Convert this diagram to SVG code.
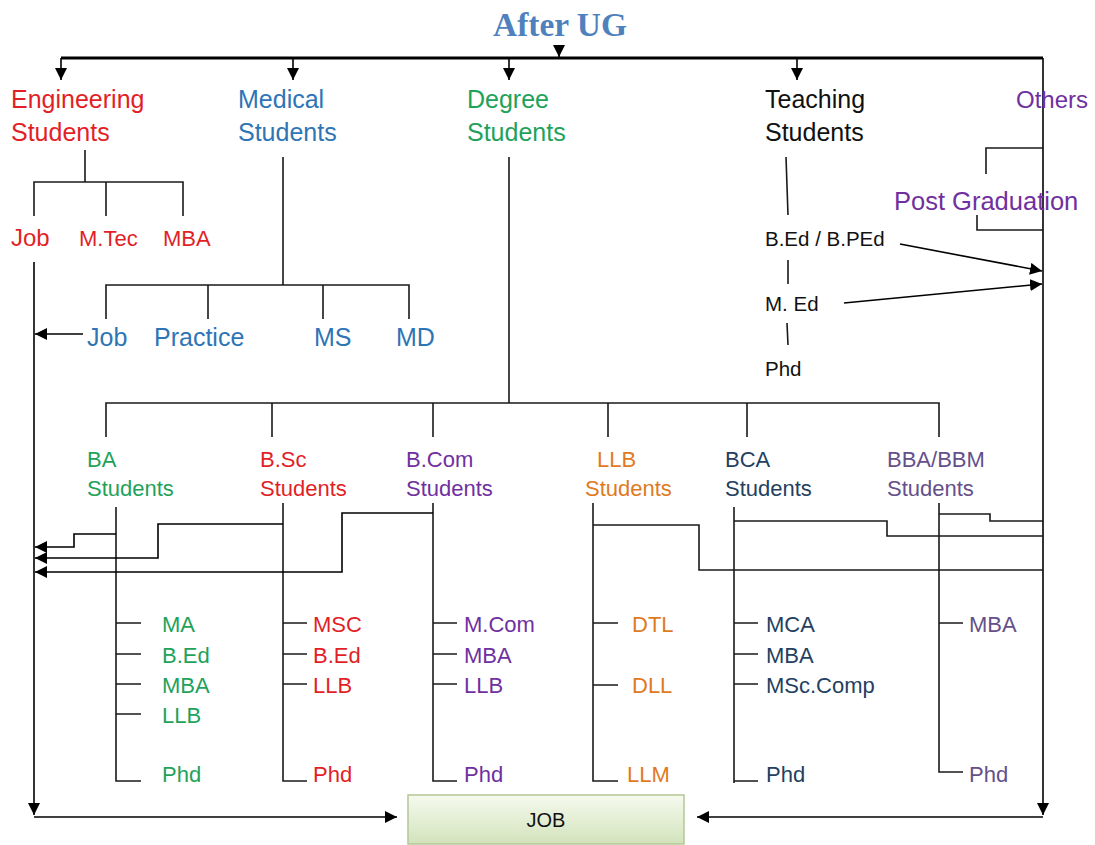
<svg xmlns="http://www.w3.org/2000/svg" width="1095" height="845" viewBox="0 0 1095 845">
<defs>
<marker id="ah" markerUnits="userSpaceOnUse" markerWidth="12" markerHeight="12" refX="12" refY="6" orient="auto">
<path d="M0,0 L12,6 L0,12 z" fill="#000"/>
</marker>
<linearGradient id="jobg" x1="0" y1="0" x2="0" y2="1">
<stop offset="0" stop-color="#f6faef"/>
<stop offset="1" stop-color="#d2e3bb"/>
</linearGradient>
<style>
text{font-family:"Liberation Sans",Arial,sans-serif;}
.big{font-size:25px;}
.mid{font-size:22px;}
.ln{stroke:#1a1a1a;stroke-width:1.6;fill:none;}
.arr{stroke:#000;stroke-width:1.6;fill:none;marker-end:url(#ah);}
.red{fill:#e21f26;}
.blue{fill:#2e75b6;}
.green{fill:#1fa25a;}
.blk{fill:#111;}
.pur{fill:#7030a0;}
.org{fill:#e07a1f;}
.navy{fill:#243f60;}
.pgray{fill:#65508a;}
</style>
</defs>
<rect width="1095" height="845" fill="#fff"/>

<g id="title">
<text x="560" y="36" text-anchor="middle" style="font-family:'Liberation Serif',serif;font-weight:bold;font-size:34px" fill="#4f81bd" textLength="134" lengthAdjust="spacingAndGlyphs">After UG</text>
</g>

<g id="connectors">
<path d="M61,58 H1043" stroke="#000" stroke-width="3" fill="none"/>
<path class="arr" d="M559,46 V57"/>
<path class="arr" d="M61,58 V80"/>
<path class="arr" d="M293,58 V80"/>
<path class="arr" d="M509,58 V80"/>
<path class="arr" d="M797,58 V80"/>
<path class="arr" d="M1043,58 V815"/>
<!-- engineering -->
<path class="ln" d="M85,150 V182 M34,216 V182 H183 V216 M106,182 V216"/>
<path class="arr" d="M34,262 V815"/>
<path class="arr" d="M34,817 H397"/>
<path class="arr" d="M1043,817 H697"/>
<!-- medical -->
<path class="ln" d="M283,157 V285 M106,319 V285 H409 V319 M208,285 V319 M323,285 V319"/>
<path class="arr" d="M83,334 H35"/>
<!-- degree -->
<path class="ln" d="M509,157 V403 M106,437 V403 H939 V437 M272,403 V437 M433,403 V437 M608,403 V437 M747,403 V437"/>
<!-- teaching -->
<path class="ln" d="M786,157 L788,215 M788,260 V284 M787,323 L788,345"/>
<path class="arr" d="M900,244 L1042,271"/>
<path class="arr" d="M844,303 L1042,284"/>
<!-- others -->
<path class="ln" d="M1043,148 H986 V174 M977,215 V230 H1043"/>
<!-- lower verticals and ticks -->
<path class="ln" d="M116,507 V781 H141 M116,623 H141 M116,654 H141 M116,684 H141 M116,714 H141"/>
<path class="ln" d="M283,503 V781 H307 M283,623 H307 M283,654 H307 M283,684 H307"/>
<path class="ln" d="M433,503 V781 H457 M433,623 H457 M433,654 H457 M433,684 H457"/>
<path class="ln" d="M593,503 V781 H618 M593,623 H618 M593,685 H618"/>
<path class="ln" d="M734,507 V783 M734,781 H758 M734,623 H758 M734,654 H758 M734,684 H758"/>
<path class="ln" d="M939,503 V772 H963 M939,623 H963"/>
<!-- back-to-job connectors left -->
<path class="arr" d="M116,534 H74 V547 H35"/>
<path class="arr" d="M283,524 H158 V558 H35"/>
<path class="arr" d="M433,513 H342 V572 H35"/>
<!-- right -->
<path class="ln" d="M593,525 H699 V570 H1043"/>
<path class="ln" d="M734,521 H887 V536 H1043"/>
<path class="ln" d="M939,514 H990 V521 H1043"/>
</g>

<g id="engineering"><text class="big red" x="11" y="108">Engineering</text><text class="big red" x="11" y="141">Students</text></g>
<g id="medical"><text class="big blue" x="238" y="108">Medical</text><text class="big blue" x="238" y="141">Students</text></g>
<g id="degree"><text class="big green" x="467" y="108">Degree</text><text class="big green" x="467" y="141">Students</text></g>
<g id="teaching"><text class="big blk" x="765" y="108">Teaching</text><text class="big blk" x="765" y="141">Students</text></g>
<g id="others"><text class="pur" x="1016" y="108" style="font-size:24px">Others</text></g>
<g id="post-graduation"><text class="pur" x="894" y="210" style="font-size:25.5px">Post Graduation</text></g>

<g id="eng-job"><text class="red" x="11" y="246" style="font-size:24px">Job</text></g>
<g id="eng-mtec"><text class="red mid" x="79" y="246">M.Tec</text></g>
<g id="eng-mba"><text class="red mid" x="163" y="246">MBA</text></g>

<g id="med-job"><text class="big blue" x="87" y="346">Job</text></g>
<g id="med-practice"><text class="big blue" x="154" y="346">Practice</text></g>
<g id="med-ms"><text class="big blue" x="314" y="346">MS</text></g>
<g id="med-md"><text class="big blue" x="396" y="346">MD</text></g>

<g id="teach-bed"><text class="blk" x="765" y="246" style="font-size:20.5px">B.Ed / B.PEd</text></g>
<g id="teach-med"><text class="blk" x="765" y="311" style="font-size:20.5px">M. Ed</text></g>
<g id="teach-phd"><text class="blk" x="765" y="376" style="font-size:20.5px">Phd</text></g>

<g id="ba"><text class="mid green" x="87" y="467">BA</text><text class="mid green" x="87" y="496">Students</text></g>
<g id="bsc"><text class="mid red" x="260" y="467">B.Sc</text><text class="mid red" x="260" y="496">Students</text></g>
<g id="bcom"><text class="mid pur" x="406" y="467">B.Com</text><text class="mid pur" x="406" y="496">Students</text></g>
<g id="llb"><text class="mid org" x="597" y="467">LLB</text><text class="mid org" x="585" y="496">Students</text></g>
<g id="bca"><text class="mid navy" x="725" y="467">BCA</text><text class="mid navy" x="725" y="496">Students</text></g>
<g id="bba"><text class="mid pgray" x="887" y="467">BBA/BBM</text><text class="mid pgray" x="887" y="496">Students</text></g>

<g id="ba-list" class="mid">
<text class="mid green" x="162" y="632">MA</text>
<text class="mid green" x="162" y="663">B.Ed</text>
<text class="mid green" x="162" y="693">MBA</text>
<text class="mid green" x="162" y="723">LLB</text>
<text class="mid green" x="162" y="782">Phd</text>
</g>
<g id="bsc-list">
<text class="mid red" x="313" y="632">MSC</text>
<text class="mid red" x="313" y="663">B.Ed</text>
<text class="mid red" x="313" y="693">LLB</text>
<text class="mid red" x="313" y="782">Phd</text>
</g>
<g id="bcom-list">
<text class="mid pur" x="464" y="632">M.Com</text>
<text class="mid pur" x="464" y="663">MBA</text>
<text class="mid pur" x="464" y="693">LLB</text>
<text class="mid pur" x="464" y="782">Phd</text>
</g>
<g id="llb-list">
<text class="mid org" x="632" y="632">DTL</text>
<text class="mid org" x="632" y="693">DLL</text>
<text class="mid org" x="627" y="782">LLM</text>
</g>
<g id="bca-list">
<text class="mid navy" x="766" y="632">MCA</text>
<text class="mid navy" x="766" y="663">MBA</text>
<text class="mid navy" x="766" y="693">MSc.Comp</text>
<text class="mid navy" x="766" y="782">Phd</text>
</g>
<g id="bba-list">
<text class="mid pgray" x="969" y="632">MBA</text>
<text class="mid pgray" x="969" y="782">Phd</text>
</g>

<g id="job">
<rect x="408" y="795" width="276" height="49" fill="url(#jobg)" stroke="#b3c796" stroke-width="1.5"/>
<text x="546" y="827" text-anchor="middle" style="font-size:20px" fill="#111">JOB</text>
</g>
</svg>
